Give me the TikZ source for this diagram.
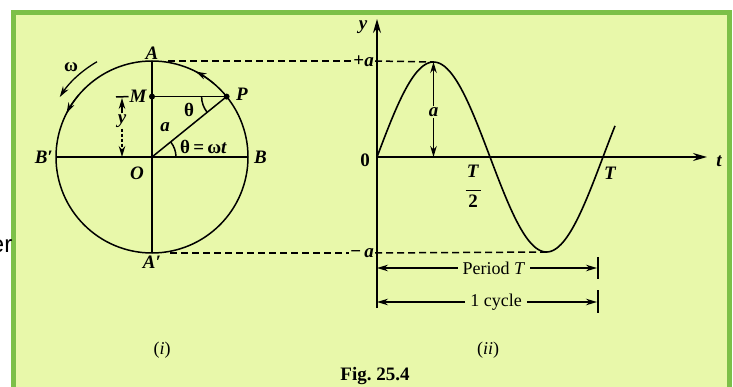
\documentclass[tikz,border=0pt]{standalone}
\usepackage{fontspec}
\setmainfont{Liberation Serif}
\setsansfont{Liberation Sans}
\usetikzlibrary{arrows.meta,positioning,calc}
\definecolor{panel}{RGB}{232,248,170}
\definecolor{cadre}{RGB}{124,192,72}
\tikzset{
  lbl/.style={font=\fontsize{19}{21}\selectfont\bfseries\itshape,inner sep=1pt},
  rom/.style={font=\fontsize{19}{21}\selectfont\bfseries,inner sep=1pt},
  txt/.style={font=\fontsize{18}{20}\selectfont,inner sep=5pt},
  ax/.style={line width=1.6pt,-{Stealth[length=14pt,width=8pt]}},
  fl/.style={line width=1.3pt,-{Stealth[length=11pt,width=6.5pt]}},
  trait/.style={line width=1.5pt},
  tir/.style={line width=1.5pt,dash pattern=on 7pt off 4pt},
  pt/.style={circle,fill,inner sep=0pt,minimum size=6pt},
}

\begin{document}
\begin{tikzpicture}[x=1pt,y=1pt]
  \useasboundingbox (0,0) rectangle (733,-387);
  \fill[white] (0,0) rectangle (733,-387);
  \draw[cadre,fill=panel,line width=5pt] (13.5,-13) rectangle (729,-400);
  \node[font=\sffamily\fontsize{24}{26}\selectfont,anchor=east,inner sep=0pt] (er) at (12.5,-246) {er};
  % (i) reference circle
  \coordinate (O) at (152,-157);
  \path (O) ++(90:96) coordinate (A);
  \path (O) ++(-90:96) coordinate (Ap);
  \path (O) ++(0:96) coordinate (B);
  \path (O) ++(180:96) coordinate (Bp);
  \path (O) ++(39:96) coordinate (P);
  \coordinate (M) at (O |- P);
  \draw[trait] (O) circle[radius=96pt];
  \draw[trait] (A) -- (Ap);
  \draw[trait] (Bp) -- (B);
  \draw[trait] (O) -- (P);
  \draw[trait] (M) -- (P);
  \node[pt] (Mdot) at (M) {};
  \node[pt] (Pdot) at (P) {};
  \draw[fl] (O) ++(50:96) arc[start angle=50,end angle=63,radius=96pt];
  \draw[fl] (O) ++(140:96) arc[start angle=140,end angle=153,radius=96pt];
  \draw[fl] (O) ++(120:110) arc[start angle=120,end angle=147,radius=110pt];
  \draw[trait] (P) ++(180:25) arc[start angle=180,end angle=219,radius=25pt];
  \draw[trait] (O) ++(0:24) arc[start angle=0,end angle=39,radius=24pt];
  \node[rom] (w) at (71,-67) {ω};
  \node[lbl,above=0pt of A] (Alab) {A};
  \node[lbl,below=2pt of Ap] (Aplab) {A′};
  \node[lbl,left=2pt of Bp] (Bplab) {B′};
  \node[lbl,right=5pt of B] (Blab) {B};
  \node[lbl] (Olab) at (137,-173) {O};
  \node[lbl,left=1pt of Mdot] (Mlab) {M};
  \node[lbl] (Plab) at (242,-94) {P};
  \node[rom] (th) at (189,-110) {θ};
  \node[lbl] (alab) at (165,-127) {a};
  \node[rom,anchor=west] (wt) at (179,-147) {θ\,=\,ω\textit{t}};
  % dimension y
  \coordinate (ytop) at (122,-98);
  \coordinate (ybot) at (122,-157);
  \draw[trait] (116,-97) -- (Mlab.west);
  \node[lbl] (ylab) at (122,-121) {y};
  \draw[fl] (ylab.north) -- (ytop);
  \draw[fl,dash pattern=on 3pt off 2pt] (ylab.south) -- (ybot);
  % (ii) displacement graph
  \coordinate (G) at (377,-157);
  \coordinate (ytip) at (377,-19);
  \coordinate (yfoot) at (377,-308);
  \coordinate (ttip) at (707,-157);
  \draw[ax] (yfoot) -- (ytip);
  \draw[ax] (G) -- (ttip);
  \node[lbl] (ylbl) at (363,-27) {y};
  \node[lbl] (tlbl) at (719,-161) {t};
  \node[rom] (zero) at (365,-160) {0};
  \node[rom,anchor=east] (plus) at (375,-61) {+\textit{a}};
  \node[rom,anchor=east] (minus) at (375,-253) {−\,\textit{a}};
  \draw[line width=1.6pt] plot[domain=0:238,samples=120,smooth]
    ({377+\x},{-157+95*sin(\x*1.59292)});
  \coordinate (pk) at (433.5,-62);
  \coordinate (tr) at (546.5,-252);
  \coordinate (abot) at (433.5,-157);
  \node[lbl] (amp) at (433.5,-112) {a};
  \draw[fl] (amp) -- (pk);
  \draw[fl] (amp) -- (abot);
  \coordinate (dA) at (168,-61);
  \coordinate (dAp) at (170,-253);
  \draw[tir] (dA) -- (plus.west);
  \draw[tir] (plus.east) -- (pk);
  \draw[tir] (dAp) -- (minus.west);
  \draw[tir] (minus.east) -- (tr);
  \node[rom,align=center,inner sep=0pt] (half) at (473,-186)
    {\textit{T}\\[-7pt]\rule{15pt}{1.3pt}\\[-5pt]2};
  \node[lbl] (Tlab) at (610,-173) {T};
  % period and cycle
  \node[txt] (per) at (494,-268) {Period \textit{T}};
  \coordinate (perL) at (377,-268);
  \coordinate (perR) at (597,-268);
  \draw[fl] (per) -- (perL);
  \draw[fl] (per) -- (perR);
  \draw[trait] (598,-257) -- (598,-279);
  \node[txt] (cyc) at (496,-302) {1 cycle};
  \coordinate (cycL) at (377,-302);
  \coordinate (cycR) at (597,-302);
  \draw[fl] (cyc) -- (cycL);
  \draw[fl] (cyc) -- (cycR);
  \draw[trait] (598,-290) -- (598,-313);
  % captions
  \node[txt] (capi) at (162,-350) {(\textit{i})};
  \node[txt] (capii) at (488,-350) {(\textit{ii})};
  \node[txt,font=\fontsize{19}{21}\selectfont\bfseries] (fig) at (375,-376) {Fig.\ 25.4};
\end{tikzpicture}
\end{document}
